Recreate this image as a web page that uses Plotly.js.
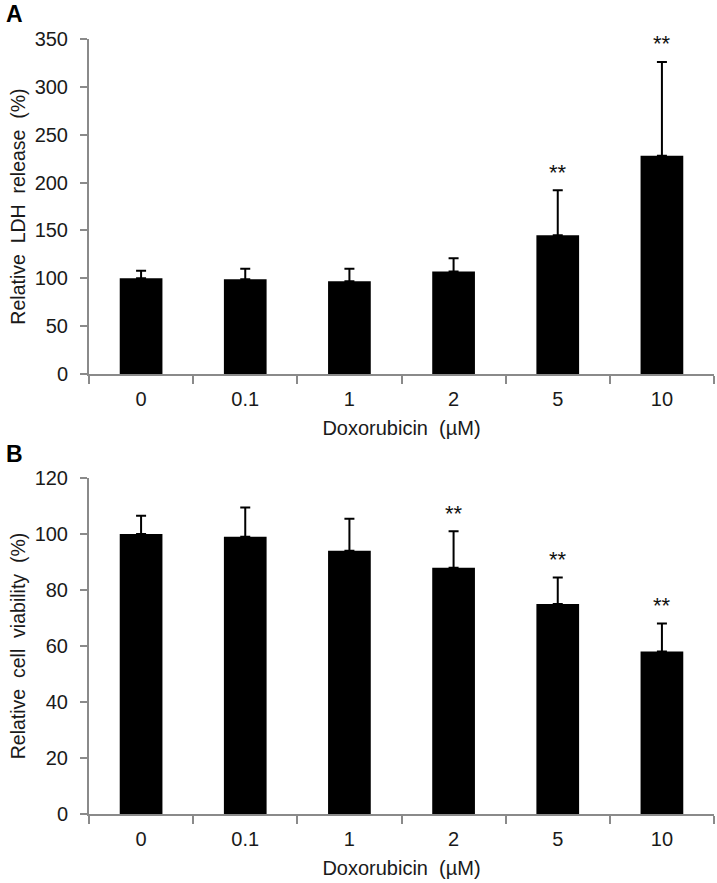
<!DOCTYPE html>
<html>
<head>
<meta charset="utf-8">
<script src="https://cdn.plot.ly/plotly-3.0.1.min.js"></script>
<style>
  html, body { margin: 0; padding: 0; background: #fff; }
  #chart { width: 717px; height: 883px; }
</style>
</head>
<body>
<div id="chart"></div>
<script>
// Doxorubicin doses (x categories)
const doses = ["0", "0.1", "1", "2", "5", "10"];

// Panel A: relative LDH release (%)
const ldhMean = [100, 99, 97, 107, 145, 228];
const ldhErr = [8, 11, 13, 14, 47, 98];
const ldhSig = ["", "", "", "", "**", "**"];

// Panel B: relative cell viability (%)
const viabMean = [100, 99, 94, 88, 75, 58];
const viabErr = [6.5, 10.5, 11.5, 13, 9.5, 10];
const viabSig = ["", "", "", "**", "**", "**"];

const zeros = doses.map(() => 0);
const sp = "\u00a0 "; // wide gaps as in the original labels

function barTrace(y, err, xa, ya) {
  return {
    type: "bar",
    x: doses,
    y: y,
    xaxis: xa,
    yaxis: ya,
    marker: { color: "#000" },
    error_y: {
      type: "data",
      symmetric: false,
      array: err,
      arrayminus: zeros,
      color: "#000",
      thickness: 2,
      width: 5
    },
    hoverinfo: "x+y",
    showlegend: false
  };
}

// "**" marks above the error bars (x given as category index)
function sigNotes(y, err, sig, xa, ya) {
  const notes = [];
  sig.forEach((s, i) => {
    if (!s) return;
    notes.push({
      x: i, y: y[i] + err[i], xref: xa, yref: ya,
      text: s, showarrow: false, yanchor: "middle", yshift: 18,
      font: { size: 22, family: "Liberation Sans, Arial, sans-serif", color: "#111" }
    });
  });
  return notes;
}

const axisLine = {
  showline: true, linecolor: "#8a8a8a", linewidth: 2,
  ticks: "outside", tickcolor: "#8a8a8a", tickwidth: 2,
  showgrid: false, zeroline: false,
  tickfont: { size: 20, color: "#1a1a1a" }
};

const xBase = Object.assign({}, axisLine, {
  type: "category", tickson: "boundaries", ticklen: 8,
  range: [-0.5, 5.5], ticklabelstandoff: 6,
  title: { text: "Doxorubicin" + sp + "(\u00b5M)", font: { size: 20, color: "#1a1a1a" }, standoff: 12 }
});

const yBase = Object.assign({}, axisLine, { ticklen: 7, ticklabelstandoff: 8 });

const layout = {
  width: 717,
  height: 883,
  margin: { l: 89, r: 3, t: 39, b: 69 },
  paper_bgcolor: "#fff",
  plot_bgcolor: "#fff",
  font: { family: "Liberation Sans, Arial, sans-serif", color: "#1a1a1a" },
  bargap: 0.59,
  xaxis: Object.assign({}, xBase, { anchor: "y" }),
  yaxis: Object.assign({}, yBase, {
    anchor: "x", domain: [0.5677, 1], range: [0, 350], dtick: 50,
    title: { text: "Relative" + sp + "LDH" + sp + "release" + sp + "(%)", font: { size: 19.5 }, standoff: 4 }
  }),
  xaxis2: Object.assign({}, xBase, { anchor: "y2" }),
  yaxis2: Object.assign({}, yBase, {
    anchor: "x2", domain: [0, 0.4335], range: [0, 120], dtick: 20,
    title: { text: "Relative" + sp + "cell" + sp + "viability" + sp + "(%)", font: { size: 19.5 }, standoff: 4 }
  }),
  annotations: [
    { text: "<b>A</b>", xref: "paper", yref: "paper", x: -0.136, y: 1.032,
      xanchor: "left", yanchor: "middle", showarrow: false, font: { size: 23, color: "#000" } },
    { text: "<b>B</b>", xref: "paper", yref: "paper", x: -0.136, y: 0.4645,
      xanchor: "left", yanchor: "middle", showarrow: false, font: { size: 23, color: "#000" } }
  ].concat(
    sigNotes(ldhMean, ldhErr, ldhSig, "x", "y"),
    sigNotes(viabMean, viabErr, viabSig, "x2", "y2")
  )
};

Plotly.newPlot("chart", [
  barTrace(ldhMean, ldhErr, "x", "y"),
  barTrace(viabMean, viabErr, "x2", "y2")
], layout, { displayModeBar: false, staticPlot: true });
</script>
</body>
</html>
